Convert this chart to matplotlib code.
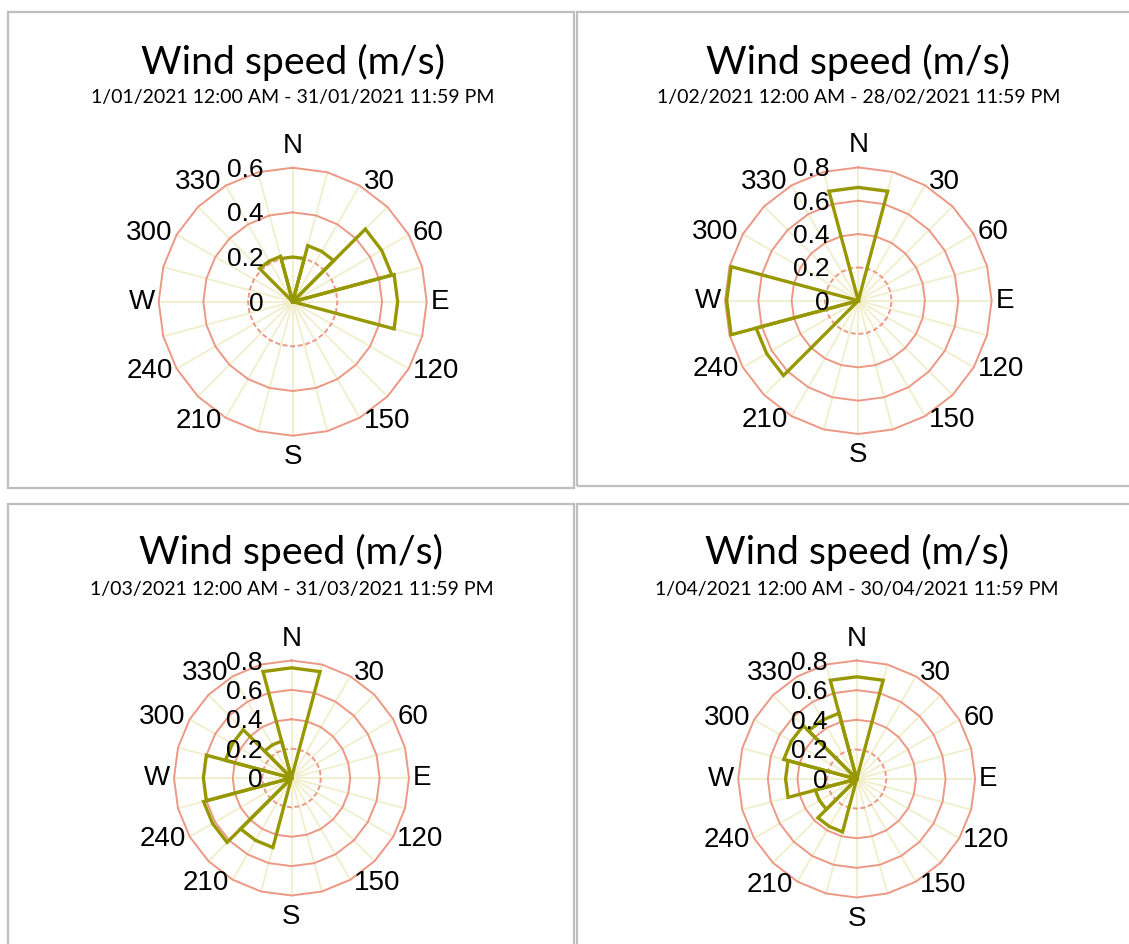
import numpy as np
import matplotlib
matplotlib.use("Agg")
import matplotlib.pyplot as plt
from matplotlib.patches import Rectangle

plt.rcParams['lines.scale_dashes'] = False

# ---------------- data ----------------
directions = [0, 30, 60, 90, 120, 150, 180, 210, 240, 270, 300, 330]
dir_labels = ["N", "30", "60", "E", "120", "150", "S", "210", "240", "W", "300", "330"]

jan = [0.20, 0.26, 0.46, 0.47, 0, 0, 0, 0, 0, 0, 0, 0.21]
feb = [0.68, 0, 0, 0, 0, 0, 0, 0, 0.635, 0.79, 0, 0]
mar = [0.75, 0, 0, 0, 0, 0, 0, 0.49, 0.62, 0.60, 0.465, 0.26]
apr = [0.69, 0, 0, 0, 0, 0, 0, 0.37, 0.29, 0.48, 0.51, 0.46]

rings_jan = [0.2, 0.4, 0.6]
rings_other = [0.2, 0.4, 0.6, 0.8]
ring_labels_jan = ["0", "0.2", "0.4", "0.6"]
ring_labels_other = ["0", "0.2", "0.4", "0.6", "0.8"]

title = "Wind speed (m/s)"
subtitles = [
    "1/01/2021 12:00 AM - 31/01/2021 11:59 PM",
    "1/02/2021 12:00 AM - 28/02/2021 11:59 PM",
    "1/03/2021 12:00 AM - 31/03/2021 11:59 PM",
    "1/04/2021 12:00 AM - 30/04/2021 11:59 PM",
]

# ---------------- layout (pixels) ----------------
W, H = 1129, 944
panels = [
    dict(vals=jan, rings=rings_jan, rlabels=ring_labels_jan, border=(8, 12, 574, 488),
         c=(292.7, 301.7), R=134.0, ty=62, sy=97, sub=subtitles[0]),
    dict(vals=feb, rings=rings_other, rlabels=ring_labels_other, border=(577, 12, 1145, 486),
         c=(858.3, 300.7), R=133.3, ty=62, sy=97, sub=subtitles[1]),
    dict(vals=mar, rings=rings_other, rlabels=ring_labels_other, border=(8, 504, 574, 960),
         c=(291.5, 778.0), R=117.5, ty=552, sy=590, sub=subtitles[2]),
    dict(vals=apr, rings=rings_other, rlabels=ring_labels_other, border=(577, 504, 1145, 960),
         c=(856.7, 779.0), R=118.5, ty=552, sy=590, sub=subtitles[3]),
]

ring_color = "#EC9884"
spoke_color = "#F1EECB"
bar_color = "#979700"
border_color = "#BFBFBF"
label_font = "Liberation Sans"
title_font = "Lato"

fig = plt.figure(figsize=(W / 100, H / 100), dpi=100)
fig.patch.set_facecolor("white")

for p in panels:
    x0, y0, x1, y1 = p["border"]
    fig.add_artist(Rectangle((x0 / W, 1 - y1 / H), (x1 - x0) / W, (y1 - y0) / H,
                             transform=fig.transFigure, fill=False,
                             ec=border_color, lw=1.6))
    cx, cy = p["c"]
    R = p["R"]
    fig.text(cx / W, 1 - p["ty"] / H, title, ha="center", va="center",
             fontsize=28.3, family=title_font, color="black")
    fig.text(cx / W, 1 - p["sy"] / H, p["sub"], ha="center", va="center",
             fontsize=14, family=title_font, color="black")

    ax = fig.add_axes([(cx - R) / W, 1 - (cy + R) / H, 2 * R / W, 2 * R / H],
                      projection="polar")
    ax.set_theta_zero_location("N")
    ax.set_theta_direction(-1)
    rmax = p["rings"][-1]
    ax.set_ylim(0, rmax)
    ax.axis("off")

    # spokes every 15 degrees
    for a in range(0, 360, 15):
        ax.plot([np.deg2rad(a)] * 2, [0, rmax], color=spoke_color, lw=1.3,
                clip_on=False, zorder=1)
    # polygonal rings (24-gon)
    ang = np.deg2rad(np.arange(0, 361, 15))
    for i, r in enumerate(p["rings"]):
        ls = (0, (3.6, 1.9)) if i == 0 else "-"
        ax.plot(ang, [r] * len(ang), color=ring_color, lw=1.4, ls=ls,
                clip_on=False, zorder=2)

    # bars
    for d, v in zip(directions, p["vals"]):
        if v <= 0:
            continue
        th = np.deg2rad([d - 15, d - 15, d, d + 15, d + 15])
        rr = [0, v, v, v, 0]
        ax.plot(th, rr, color=bar_color, lw=2.4, clip_on=False, zorder=4,
                solid_joinstyle="miter")

    # direction labels
    for d, lab in zip(directions, dir_labels):
        s, c = np.sin(np.deg2rad(d)), np.cos(np.deg2rad(d))
        if d == 0:
            ha, va, off = "center", "center", (0, 22)
        elif d == 180:
            ha, va, off = "center", "center", (0, -21)
        else:
            ha = "left" if s > 0 else "right"
            va = "center"
            off = (4 * np.sign(s), 4 * c)
        ax.annotate(lab, xy=(np.deg2rad(d), rmax), xycoords="data",
                    xytext=off, textcoords="offset pixels", ha=ha, va=va,
                    fontsize=20, family=label_font, color="black",
                    annotation_clip=False, zorder=5)

    # radial value labels
    rvals = [0] + p["rings"]
    for r, lab in zip(rvals, p["rlabels"]):
        ax.annotate(lab, xy=(0, r), xycoords="data", xytext=(-29, -2),
                    textcoords="offset pixels", ha="right", va="center",
                    fontsize=19, family=label_font, color="black",
                    annotation_clip=False, zorder=5)

fig.savefig("out.png", dpi=100, facecolor="white")
